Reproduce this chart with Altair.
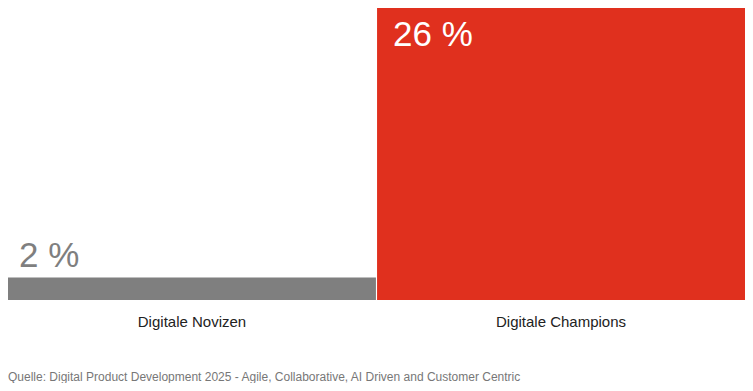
import altair as alt
import pandas as pd

categories = ["Digitale Novizen", "Digitale Champions"]
values = [2, 26]
labels = ["2 %", "26 %"]
colors = ["#7f7f7f", "#e0301e"]
source = "Quelle: Digital Product Development 2025 - Agile, Collaborative, AI Driven and Customer Centric"

df = pd.DataFrame({"cat": categories, "val": values, "lab": labels})

FONT = "Liberation Sans"

x_enc = alt.X(
    "cat:N",
    sort=categories,
    scale=alt.Scale(paddingInner=0.003, paddingOuter=0),
    axis=alt.Axis(
        title=None, labelAngle=0, ticks=False, domain=False, grid=False,
        labelFontSize=15, labelColor="#222222", labelPadding=14, labelFont=FONT,
    ),
)
y_scale = alt.Scale(domain=[0, 26], nice=False, zero=True)
y_enc = alt.Y("val:Q", scale=y_scale, axis=None)

bars = alt.Chart(df).mark_bar().encode(
    x=x_enc,
    y=y_enc,
    color=alt.Color("cat:N", scale=alt.Scale(domain=categories, range=colors), legend=None),
)

x_left = alt.X("cat:N", sort=categories, bandPosition=0,
               scale=alt.Scale(paddingInner=0.003, paddingOuter=0))

small_lab = alt.Chart(df).transform_filter(alt.datum.val < 10).mark_text(
    align="left", baseline="alphabetic", fontSize=35, font=FONT, color="#7f7f7f", dx=11, dy=-11,
).encode(x=x_left, y=y_enc, text="lab:N")

big_lab = alt.Chart(df).transform_filter(alt.datum.val >= 10).mark_text(
    align="left", baseline="alphabetic", fontSize=35, font=FONT, color="#ffffff", dx=16, dy=38,
).encode(x=x_left, y=y_enc, text="lab:N")

chart = alt.layer(bars, small_lab, big_lab).properties(
    width=737,
    height=292,
    padding=0,
    title=alt.TitleParams(
        text=source, orient="bottom", anchor="start", fontSize=12, font=FONT,
        fontWeight="normal", color="#777777", offset=43,
    ),
).configure_view(stroke=None)

chart.save("out.html", embed_options={"renderer": "svg", "actions": False})
